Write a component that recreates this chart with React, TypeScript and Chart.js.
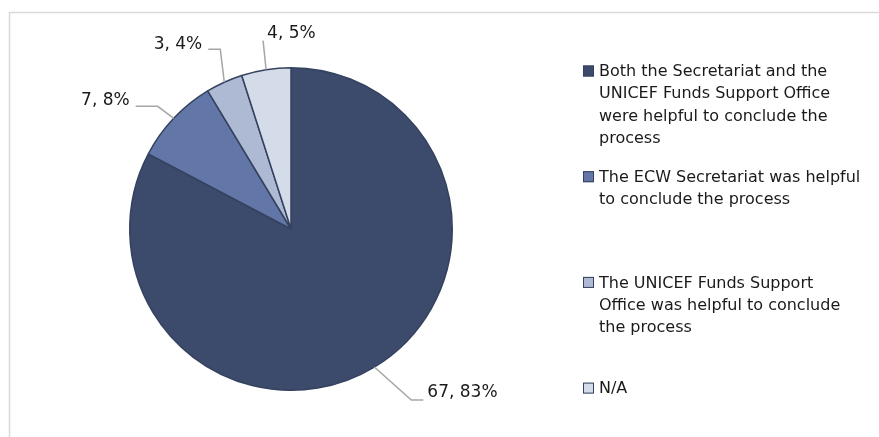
import { useEffect, useRef } from "react";
import { Chart, registerables } from "chart.js";

Chart.register(...registerables);

// ---- data ----
const categories: string[][] = [
  ["Both the Secretariat and the", "UNICEF Funds Support Office", "were helpful to conclude the", "process"],
  ["The ECW Secretariat was helpful", "to conclude the process"],
  ["The UNICEF Funds Support", "Office was helpful to conclude", "the process"],
  ["N/A"],
];
const counts = [67, 7, 3, 4];
const percentLabels = ["83%", "8%", "4%", "5%"];

// ---- styles ----
const sliceColors = ["#3C4A6B", "#6277A7", "#AEB9D3", "#D5DCE9"];
const sliceBorder = "#34425F";
const leaderColor = "#A6A6A6";
const textColor = "#1A1A1A";
const fontFamily = "'DejaVu Sans', Verdana, sans-serif";

// leader-line layout relative to each slice's outer mid-point
const leaderLayout = [
  { elbow: [37, 33], tail: 12, side: "right", textDy: -7 },
  { elbow: [-16, -12], tail: -22, side: "left", textDy: -6 },
  { elbow: [-4, -33], tail: -12, side: "left", textDy: -5 },
  { elbow: [-3, -29], tail: 0, side: "right", textDy: -7 },
];

const framePlugin = {
  id: "frame",
  beforeDraw(chart: any) {
    const ctx = chart.ctx;
    ctx.save();
    ctx.fillStyle = "#FFFFFF";
    ctx.fillRect(0, 0, chart.width, chart.height);
    ctx.strokeStyle = "#D9D9D9";
    ctx.lineWidth = 1.5;
    ctx.strokeRect(9.5, 12.5, chart.width + 20, chart.height + 20);
    ctx.restore();
  },
};

const labelPlugin = {
  id: "leaderLabels",
  afterDatasetsDraw(chart: any) {
    const ctx = chart.ctx;
    const meta = chart.getDatasetMeta(0);
    ctx.save();
    ctx.font = `17px ${fontFamily}`;
    ctx.textBaseline = "middle";
    meta.data.forEach((arc: any, i: number) => {
      const { x, y, startAngle, endAngle, outerRadius } = arc.getProps(
        ["x", "y", "startAngle", "endAngle", "outerRadius"],
        true
      );
      const mid = (startAngle + endAngle) / 2;
      const px = x + Math.cos(mid) * outerRadius;
      const py = y + Math.sin(mid) * outerRadius;
      const lay = leaderLayout[i];
      const ex = px + lay.elbow[0];
      const ey = py + lay.elbow[1];
      const tx = ex + lay.tail;
      ctx.strokeStyle = leaderColor;
      ctx.lineWidth = 1.5;
      ctx.beginPath();
      ctx.moveTo(px, py);
      ctx.lineTo(ex, ey);
      ctx.lineTo(tx, ey);
      ctx.stroke();
      const text = `${counts[i]}, ${percentLabels[i]}`;
      ctx.fillStyle = textColor;
      if (lay.side === "right") {
        ctx.textAlign = "left";
        ctx.fillText(text, tx + 4, ey + lay.textDy);
      } else {
        ctx.textAlign = "right";
        ctx.fillText(text, tx - 6, ey + lay.textDy);
      }
    });
    ctx.restore();
  },
};

const legendPlugin = {
  id: "sideLegend",
  afterDraw(chart: any) {
    const ctx = chart.ctx;
    const left = 583;
    const top = 71;
    const itemGap = 105.7;
    const lineH = 22.3;
    ctx.save();
    ctx.font = `16px ${fontFamily}`;
    ctx.textBaseline = "middle";
    ctx.textAlign = "left";
    categories.forEach((lines, i) => {
      const y0 = top + i * itemGap;
      ctx.fillStyle = sliceColors[i];
      ctx.fillRect(left, y0 - 5.5, 11, 11);
      ctx.strokeStyle = sliceBorder;
      ctx.lineWidth = 1;
      ctx.strokeRect(left + 0.5, y0 - 5, 10, 10);
      ctx.fillStyle = textColor;
      lines.forEach((ln, j) => {
        ctx.fillText(ln, left + 16, y0 + j * lineH + 1);
      });
    });
    ctx.restore();
  },
};

export default function App() {
  const ref = useRef<HTMLCanvasElement | null>(null);
  useEffect(() => {
    document.body.style.margin = "0";
    if (!ref.current) return;
    const chart = new Chart(ref.current, {
      type: "pie",
      data: {
        labels: categories.map((c) => c.join(" ")),
        datasets: [
          {
            data: counts,
            backgroundColor: sliceColors,
            borderColor: sliceBorder,
            borderWidth: 1.5,
          },
        ],
      },
      options: {
        animation: false,
        responsive: false,
        devicePixelRatio: 1,
        layout: { padding: { left: 129, right: 426, top: 67, bottom: 46 } },
        plugins: {
          legend: { display: false },
          tooltip: { enabled: false },
        },
      },
      plugins: [framePlugin, labelPlugin, legendPlugin],
    });
    return () => chart.destroy();
  }, []);
  return (
    <div style={{ width: 879, height: 437 }}>
      <canvas ref={ref} width={879} height={437} style={{ display: "block" }} />
    </div>
  );
}
